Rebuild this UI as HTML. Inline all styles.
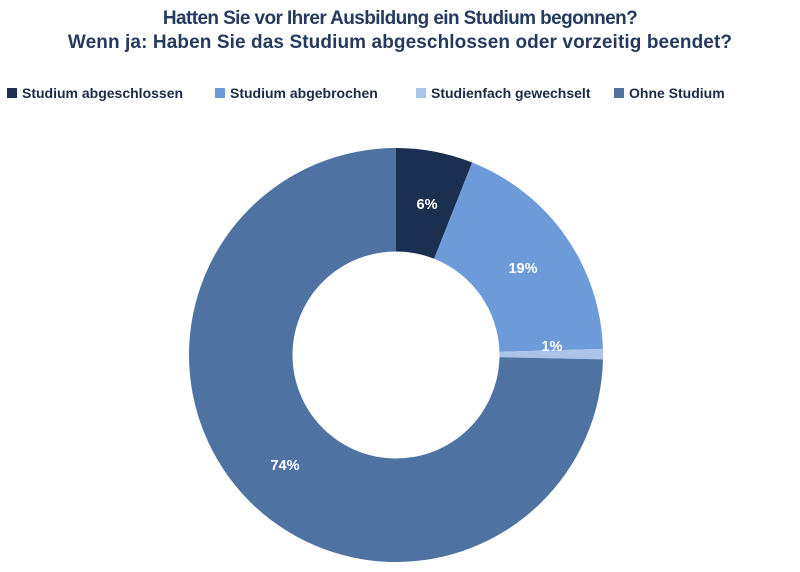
<!DOCTYPE html>
<html><head><meta charset="utf-8"><style>
body{margin:0;background:#fff;width:800px;height:572px;overflow:hidden;font-family:"Liberation Sans",sans-serif;}
.t{position:absolute;left:0;width:800px;text-align:center;color:#26395e;font-weight:bold;font-size:19px;}
.lg{position:absolute;top:85px;font-size:14px;font-weight:bold;color:#1c2a44;white-space:nowrap;}
.lg i{display:inline-block;width:10px;height:10px;margin-right:5px;vertical-align:0px;}
</style></head><body>
<div class="t" style="top:8px;letter-spacing:-0.6px">Hatten Sie vor Ihrer Ausbildung ein Studium begonnen?</div>
<div class="t" style="top:32px;letter-spacing:0.1px">Wenn ja: Haben Sie das Studium abgeschlossen oder vorzeitig beendet?</div>
<div class="lg" style="left:7px"><i style="background:#1b3050"></i>Studium abgeschlossen</div>
<div class="lg" style="left:215px"><i style="background:#6d9bd9"></i>Studium abgebrochen</div>
<div class="lg" style="left:416px"><i style="background:#a9c4e8"></i>Studienfach gewechselt</div>
<div class="lg" style="left:614px"><i style="background:#4e72a2"></i>Ohne Studium</div>
<svg id="s" width="800" height="572" style="position:absolute;left:0;top:0">
<g id="g"></g>
<g font-family="Liberation Sans, sans-serif" font-weight="bold" font-size="14.5" fill="#fff" text-anchor="middle">
<text x="427" y="209">6%</text>
<text x="523" y="273">19%</text>
<text x="552" y="351">1%</text>
<text x="285" y="470">74%</text>
</g></svg>
<script>
var cx=396,cy=355,R=207,r=103.5;
var segs=[[0,21.6,"#1b3050"],[21.6,88.3,"#6d9bd9"],[88.3,91.2,"#a9c4e8"],[91.2,360,"#4e72a2"]];
function p(a,rad){var t=(a-90)*Math.PI/180;return [cx+rad*Math.cos(t),cy+rad*Math.sin(t)];}
var h="";
segs.forEach(function(s){var a=s[0],b=s[1],l=(b-a)>180?1:0;
var o1=p(a,R),o2=p(b,R),i2=p(b,r),i1=p(a,r);
h+='<path fill="'+s[2]+'" d="M'+o1+' A'+R+' '+R+' 0 '+l+' 1 '+o2+' L'+i2+' A'+r+' '+r+' 0 '+l+' 0 '+i1+' Z"/>';});
document.getElementById("g").innerHTML=h;
</script>
</body></html>
